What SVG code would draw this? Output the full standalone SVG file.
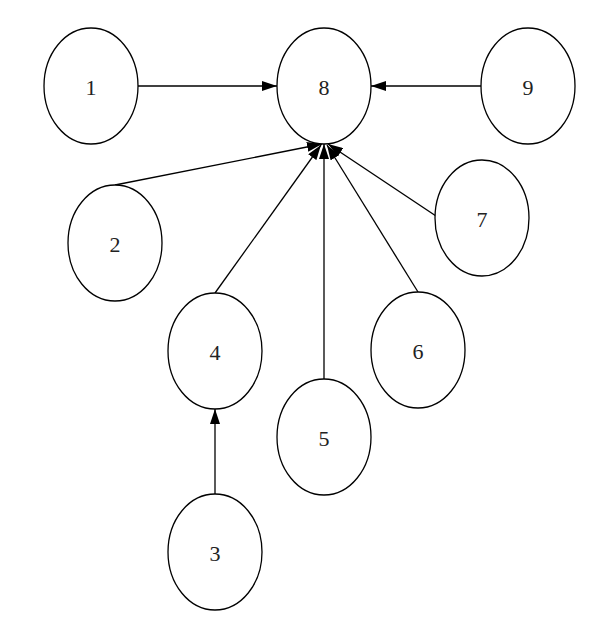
<svg xmlns="http://www.w3.org/2000/svg" width="610" height="622" viewBox="0 0 610 622">
<defs>
<marker id="ah" markerWidth="15" markerHeight="10" refX="15" refY="5" orient="auto" markerUnits="userSpaceOnUse">
<path d="M0,0 L15,5 L0,10 Z" fill="#000"/>
</marker>
<style>
.n ellipse{fill:#fff;stroke:#000;stroke-width:1.3}
.n text{font-family:"Liberation Serif",serif;font-size:22px;text-anchor:middle;dominant-baseline:central;fill:#222}
.e line{stroke:#000;stroke-width:1.3;marker-end:url(#ah)}
</style>
</defs>
<rect width="610" height="622" fill="#fff"/>
<g class="e" id="edges">
<line x1="138" y1="86" x2="277" y2="86"/>
<line x1="482" y1="86" x2="371" y2="86"/>
<line x1="115" y1="185" x2="322" y2="144"/>
<line x1="215" y1="293" x2="321" y2="145"/>
<line x1="324" y1="379" x2="324" y2="144"/>
<line x1="418" y1="292" x2="327" y2="145"/>
<line x1="436" y1="216" x2="328" y2="144"/>
<line x1="215" y1="494" x2="215" y2="409"/>
</g>
<g class="n" id="n1"><ellipse cx="91" cy="86" rx="47" ry="58"/><text x="91" y="87">1</text></g>
<g class="n" id="n8"><ellipse cx="324" cy="86" rx="47" ry="58"/><text x="324" y="87">8</text></g>
<g class="n" id="n9"><ellipse cx="528" cy="86" rx="47" ry="58"/><text x="528" y="87">9</text></g>
<g class="n" id="n2"><ellipse cx="115" cy="243" rx="47" ry="58"/><text x="115" y="244">2</text></g>
<g class="n" id="n7"><ellipse cx="482" cy="218" rx="47" ry="58"/><text x="482" y="219">7</text></g>
<g class="n" id="n4"><ellipse cx="215" cy="351" rx="47" ry="58"/><text x="215" y="352">4</text></g>
<g class="n" id="n6"><ellipse cx="418" cy="350" rx="47" ry="58"/><text x="418" y="351">6</text></g>
<g class="n" id="n5"><ellipse cx="324" cy="437" rx="47" ry="58"/><text x="324" y="438">5</text></g>
<g class="n" id="n3"><ellipse cx="215" cy="552" rx="47" ry="58"/><text x="215" y="553">3</text></g>
</svg>
